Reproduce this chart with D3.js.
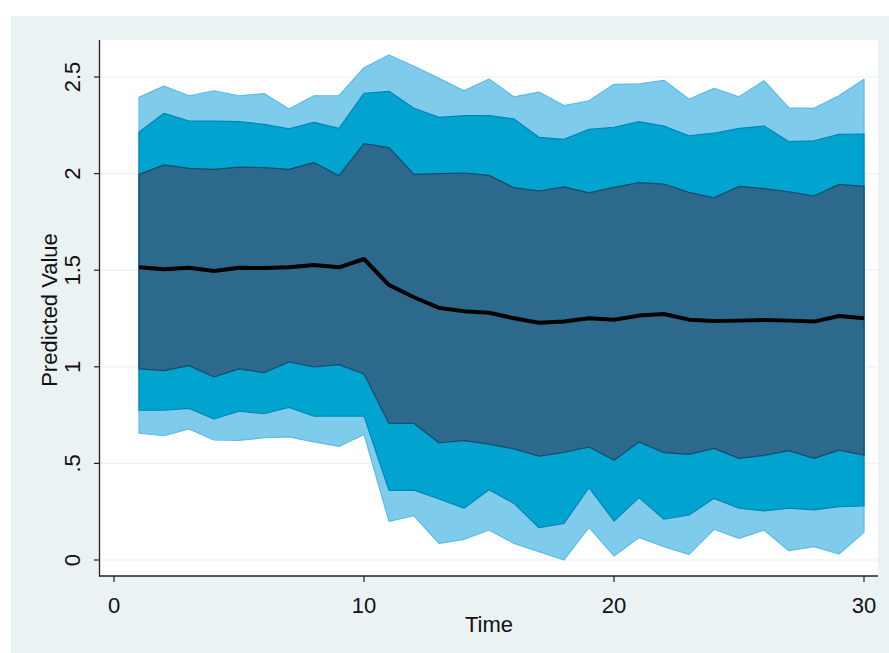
<!DOCTYPE html>
<html><head><meta charset="utf-8">
<script src="https://cdn.jsdelivr.net/npm/d3@7"></script>
<style>body{margin:0;background:#fff}svg{display:block}text{font-family:"Liberation Sans",Arial,sans-serif;fill:#111}</style>
</head><body>
<script>
const time = d3.range(1, 31);
const mean = [1.515,1.505,1.513,1.496,1.513,1.511,1.515,1.527,1.515,1.558,1.423,1.36,1.305,1.287,1.280,1.251,1.228,1.234,1.251,1.244,1.265,1.273,1.244,1.237,1.239,1.242,1.239,1.234,1.263,1.251];
const inUp = [1.996,2.045,2.027,2.022,2.034,2.031,2.022,2.057,1.989,2.155,2.134,1.996,2.000,2.003,1.991,1.927,1.910,1.931,1.900,1.929,1.953,1.946,1.903,1.875,1.934,1.922,1.906,1.884,1.944,1.934];
const inLo = [0.989,0.980,1.006,0.947,0.989,0.970,1.025,0.999,1.011,0.963,0.707,0.707,0.607,0.618,0.600,0.575,0.537,0.557,0.585,0.516,0.611,0.556,0.547,0.578,0.526,0.542,0.566,0.526,0.569,0.543];
const midUp = [2.214,2.312,2.272,2.272,2.269,2.255,2.232,2.265,2.234,2.416,2.426,2.338,2.291,2.300,2.300,2.283,2.188,2.177,2.229,2.240,2.269,2.246,2.195,2.209,2.234,2.246,2.165,2.170,2.203,2.205];
const midLo = [0.775,0.775,0.785,0.730,0.770,0.757,0.790,0.744,0.745,0.745,0.360,0.362,0.316,0.268,0.364,0.293,0.167,0.190,0.374,0.202,0.323,0.211,0.233,0.319,0.268,0.254,0.268,0.259,0.276,0.280];
const outUp = [2.395,2.453,2.403,2.429,2.402,2.414,2.334,2.403,2.403,2.548,2.614,2.556,2.493,2.428,2.490,2.397,2.422,2.352,2.377,2.462,2.465,2.483,2.385,2.441,2.398,2.481,2.340,2.338,2.403,2.488];
const outLo = [0.656,0.643,0.678,0.621,0.619,0.633,0.637,0.611,0.588,0.650,0.200,0.229,0.086,0.107,0.155,0.086,0.043,0.000,0.169,0.021,0.117,0.069,0.029,0.159,0.112,0.155,0.048,0.069,0.031,0.143];
const xTicks = [0, 10, 20, 30];
const yTicks = [0, 0.5, 1, 1.5, 2, 2.5];
const yTickLabels = ["0", ".5", "1", "1.5", "2", "2.5"];

const W = 889, H = 653;
const svg = d3.select("body").append("svg").attr("width", W).attr("height", H);
svg.append("rect").attr("x", 11).attr("y", 16).attr("width", W - 11).attr("height", H - 16).attr("fill", "#EAF2F3");
const L = 100, R = 878, T = 40, B = 576;
svg.append("rect").attr("x", L).attr("y", T).attr("width", R - L).attr("height", B - T).attr("fill", "#fff");

const x = d3.scaleLinear().domain([0, 30]).range([114, 864]);
const y = d3.scaleLinear().domain([0, 2.5]).range([560, 77]);

// gridlines
svg.append("g").selectAll("line").data(yTicks).join("line")
  .attr("x1", L).attr("x2", R).attr("y1", d => y(d)).attr("y2", d => y(d))
  .attr("stroke", "#EAF2F3").attr("stroke-width", 1.2);

const bands = [
  {lo: outLo, hi: outUp, fill: "#7FCBEC", stroke: "#5CBCE6"},
  {lo: midLo, hi: midUp, fill: "#00A4CE", stroke: "#0086B8"},
  {lo: inLo, hi: inUp, fill: "#2D698D", stroke: "#174A6E"}
];
bands.forEach(b => {
  const data = time.map((t, i) => ({t, lo: b.lo[i], hi: b.hi[i]}));
  const area = d3.area().x(d => x(d.t)).y0(d => y(d.lo)).y1(d => y(d.hi));
  svg.append("path").datum(data).attr("d", area).attr("fill", b.fill)
    .attr("stroke", b.stroke).attr("stroke-width", 1.2).attr("stroke-linejoin", "round");
});

const line = d3.line().x((d, i) => x(time[i])).y(d => y(d));
svg.append("path").datum(mean).attr("d", line).attr("fill", "none")
  .attr("stroke", "#000").attr("stroke-width", 4).attr("stroke-linejoin", "round");

// axes
svg.append("line").attr("x1", L - 0.5).attr("x2", L - 0.5).attr("y1", T).attr("y2", B + 0.5).attr("stroke", "#222").attr("stroke-width", 1.3);
svg.append("line").attr("x1", L - 1).attr("x2", R).attr("y1", B).attr("y2", B).attr("stroke", "#222").attr("stroke-width", 1.3);

const ya = svg.append("g");
ya.selectAll("line").data(yTicks).join("line")
  .attr("x1", L - 6).attr("x2", L).attr("y1", d => y(d)).attr("y2", d => y(d)).attr("stroke", "#222").attr("stroke-width", 1.2);
ya.selectAll("text").data(yTicks).join("text")
  .attr("transform", d => `translate(80,${y(d)}) rotate(-90)`)
  .attr("text-anchor", "middle").attr("font-size", 22).text((d, i) => yTickLabels[i]);

const xa = svg.append("g");
xa.selectAll("line").data(xTicks).join("line")
  .attr("x1", d => x(d)).attr("x2", d => x(d)).attr("y1", B).attr("y2", B + 6).attr("stroke", "#222").attr("stroke-width", 1.2);
xa.selectAll("text").data(xTicks).join("text")
  .attr("x", d => x(d)).attr("y", 613).attr("text-anchor", "middle").attr("font-size", 22).text(d => d);

svg.append("text").attr("x", 489).attr("y", 632).attr("text-anchor", "middle").attr("font-size", 22).text("Time");
svg.append("text").attr("transform", "translate(57,310) rotate(-90)").attr("text-anchor", "middle").attr("font-size", 22).text("Predicted Value");
</script>
</body></html>
